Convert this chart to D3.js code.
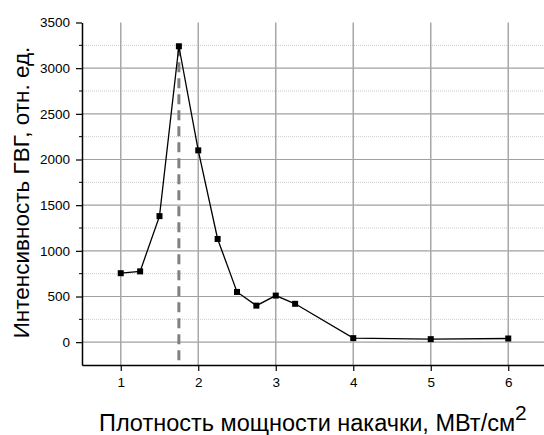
<!DOCTYPE html>
<html>
<head>
<meta charset="utf-8">
<script src="https://cdn.jsdelivr.net/npm/d3@7"></script>
<style>
  body { margin: 0; background: #fff; }
  svg { display: block; font-family: 'Liberation Sans', Arial, sans-serif; }
</style>
</head>
<body>
<div id="chart"></div>
<script>
// pump power density, MW/cm2
const density = [1, 1.25, 1.5, 1.75, 2, 2.25, 2.5, 2.75, 3, 3.25, 4, 5, 6];
// SHG intensity, arb. units
const intensity = [755, 775, 1380, 3240, 2100, 1130, 550, 400, 510, 420, 44, 33, 40];
const peakX = 1.75;
const xTicks = [1, 2, 3, 4, 5, 6];
const yTicks = [0, 500, 1000, 1500, 2000, 2500, 3000, 3500];
const yMinor = [250, 750, 1250, 1750, 2250, 2750, 3250];

const width = 544;
const height = 435;
const margin = { top: 22.5, left: 82, bottom: 70 };

const svg = d3.select('#chart')
  .append('svg')
  .attr('width', width)
  .attr('height', height);

const x = d3.scaleLinear().domain([0.5, 6.5]).range([margin.left, margin.left + 6 * 77.5]);
const y = d3.scaleLinear().domain([-250, 3500]).range([height - margin.bottom, margin.top]);

const plotLeft = x(0.5);
const plotRight = x(6.5);
const plotBottom = y(-250);
const plotTop = y(3500);

// minor horizontal grid (dotted)
svg.append('g')
  .selectAll('line')
  .data(yMinor)
  .join('line')
  .attr('x1', plotLeft).attr('x2', plotRight)
  .attr('y1', d => y(d)).attr('y2', d => y(d))
  .attr('stroke', '#c8c8c8')
  .attr('stroke-width', 1)
  .attr('stroke-dasharray', '1,1');

// major grid
svg.append('g')
  .selectAll('line')
  .data(yTicks.slice(0, -1))
  .join('line')
  .attr('x1', plotLeft).attr('x2', plotRight)
  .attr('y1', d => y(d)).attr('y2', d => y(d))
  .attr('stroke', '#a0a0a0')
  .attr('stroke-width', 1.2);

svg.append('g')
  .selectAll('line')
  .data(xTicks)
  .join('line')
  .attr('x1', d => x(d)).attr('x2', d => x(d))
  .attr('y1', plotTop).attr('y2', plotBottom)
  .attr('stroke', '#a8a8a8')
  .attr('stroke-width', 1.5);

// dashed marker at the peak
const peakY = intensity[density.indexOf(peakX)];
svg.append('line')
  .attr('x1', x(peakX)).attr('x2', x(peakX))
  .attr('y1', y(peakY)).attr('y2', plotBottom)
  .attr('stroke', '#808080')
  .attr('stroke-width', 3)
  .attr('stroke-dasharray', '10,6');

// axes
const yAxis = d3.axisLeft(y).tickValues(yTicks).tickFormat(d3.format('d'))
  .tickSize(6).tickSizeOuter(0).tickPadding(6);
const gy = svg.append('g')
  .attr('transform', `translate(${plotLeft},0)`)
  .call(yAxis);
gy.select('.domain').attr('stroke', '#000').attr('stroke-width', 1.5);
gy.selectAll('.tick line').attr('stroke', '#000').attr('stroke-width', 1.2);
gy.selectAll('text').style('font-size', '13.5px').attr('fill', '#000');

const xAxis = d3.axisBottom(x).tickValues(xTicks).tickFormat(d3.format('d'))
  .tickSize(6).tickSizeOuter(0).tickPadding(6);
const gx = svg.append('g')
  .attr('transform', `translate(0,${plotBottom})`)
  .call(xAxis);
gx.select('.domain').attr('stroke', '#000').attr('stroke-width', 1.5);
gx.selectAll('.tick line').attr('stroke', '#000').attr('stroke-width', 1.2);
gx.selectAll('text').style('font-size', '13.5px').attr('fill', '#000');

// minor ticks on y axis
svg.append('g')
  .selectAll('line')
  .data(yMinor)
  .join('line')
  .attr('x1', plotLeft - 3).attr('x2', plotLeft)
  .attr('y1', d => y(d)).attr('y2', d => y(d))
  .attr('stroke', '#000');

// data line + markers
const line = d3.line().x((d, i) => x(density[i])).y(d => y(d));
svg.append('path')
  .datum(intensity)
  .attr('d', line)
  .attr('fill', 'none')
  .attr('stroke', '#000')
  .attr('stroke-width', 1.3);

svg.append('g')
  .selectAll('rect')
  .data(intensity)
  .join('rect')
  .attr('x', (d, i) => x(density[i]) - 3)
  .attr('y', d => y(d) - 3)
  .attr('width', 6)
  .attr('height', 6)
  .attr('fill', '#000');

// axis titles
const xTitle = svg.append('text')
  .attr('x', 99)
  .attr('y', 431)
  .style('font-size', '23.5px')
  .attr('fill', '#000');
xTitle.append('tspan').text('Плотность мощности накачки, МВт/см');
xTitle.append('tspan').attr('dy', -11).style('font-size', '21px').text('2');

svg.append('text')
  .attr('transform', 'translate(29,192.5) rotate(-90)')
  .attr('text-anchor', 'middle')
  .style('font-size', '22.5px')
  .attr('fill', '#000')
  .text('Интенсивность ГВГ, отн. ед.');
</script>
</body>
</html>
